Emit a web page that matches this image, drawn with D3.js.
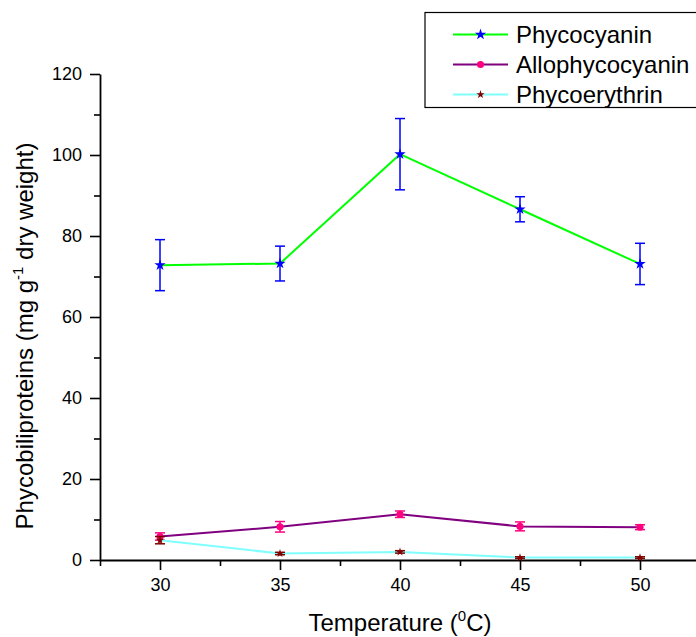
<!DOCTYPE html>
<html>
<head>
<meta charset="utf-8">
<script src="https://cdn.jsdelivr.net/npm/d3@7"></script>
<style>
  body { margin: 0; background: #fff; }
  svg { font-family: "Liberation Sans", Arial, sans-serif; }
</style>
</head>
<body>
<svg width="696" height="637"></svg>
<script>
// data
var temps = [30, 35, 40, 45, 50];
var phycocyanin = [72.8, 73.2, 100.2, 86.6, 73.1];
var phycocyaninErr = [6.3, 4.3, 8.8, 3.1, 5.1];
var allophycocyanin = [5.8, 8.2, 11.3, 8.3, 8.1];
var allophycocyaninErr = [0.9, 1.3, 0.8, 1.1, 0.6];
var phycoerythrin = [4.9, 1.6, 2.0, 0.6, 0.6];
var phycoerythrinErr = [0.9, 0.3, 0.3, 0.2, 0.2];
var yTicks = [0, 20, 40, 60, 80, 100, 120];
var yMinor = [10, 30, 50, 70, 90, 110];
var xMinor = [27.5, 32.5, 37.5, 42.5, 47.5, 52.5];

var series = [
  {name: "Phycocyanin", vals: phycocyanin, err: phycocyaninErr, line: "#00ff00", mark: "#0000ff", shape: "star", size: 40},
  {name: "Allophycocyanin", vals: allophycocyanin, err: allophycocyaninErr, line: "#800080", mark: "#ff0080", shape: "circle", size: 40},
  {name: "Phycoerythrin", vals: phycoerythrin, err: phycoerythrinErr, line: "#80ffff", mark: "#800000", shape: "star", size: 22}
];

var svg = d3.select("svg");

var x = d3.scaleLinear().domain([27.5, 52.5]).range([100, 700]);
var y = d3.scaleLinear().domain([0, 120]).range([560, 74]);

// axes (major + minor ticks)
svg.append("g").attr("transform", "translate(0,560)")
  .call(d3.axisBottom(x).tickValues(temps).tickSize(10).tickSizeOuter(0).tickPadding(8).tickFormat(d3.format("d")));
svg.append("g").attr("transform", "translate(0,560)")
  .call(d3.axisBottom(x).tickValues(xMinor).tickSize(6).tickFormat(""))
  .select(".domain").remove();
svg.append("g").attr("transform", "translate(100,0)")
  .call(d3.axisLeft(y).tickValues(yTicks).tickSize(10).tickSizeOuter(0).tickPadding(8));
svg.append("g").attr("transform", "translate(100,0)")
  .call(d3.axisLeft(y).tickValues(yMinor).tickSize(6).tickFormat(""))
  .select(".domain").remove();

svg.selectAll(".domain").attr("stroke-width", 1.8);
svg.selectAll(".tick line").attr("stroke-width", 1.6);
svg.selectAll(".tick text").attr("font-size", 18).attr("fill", "#000")
  .attr("font-family", "Liberation Sans, Arial, sans-serif");

// lines, error bars, markers
series.forEach(function(s) {
  var pts = temps.map(function(t, i) { return {t: t, v: s.vals[i], e: s.err[i]}; });
  svg.append("path").datum(pts)
    .attr("fill", "none").attr("stroke", s.line).attr("stroke-width", 2)
    .attr("d", d3.line().x(function(d) { return x(d.t); }).y(function(d) { return y(d.v); }));

  var eb = svg.append("g").attr("stroke", s.mark).attr("stroke-width", 1.5);
  pts.forEach(function(d) {
    var cx = x(d.t), y1 = y(d.v + d.e), y2 = y(d.v - d.e);
    eb.append("line").attr("x1", cx).attr("x2", cx).attr("y1", y1).attr("y2", y2);
    eb.append("line").attr("x1", cx - 5).attr("x2", cx + 5).attr("y1", y1).attr("y2", y1);
    eb.append("line").attr("x1", cx - 5).attr("x2", cx + 5).attr("y1", y2).attr("y2", y2);
  });

  var sym = d3.symbol().type(s.shape === "star" ? d3.symbolStar : d3.symbolCircle).size(s.size);
  svg.append("g").selectAll("path").data(pts).join("path")
    .attr("d", sym)
    .attr("transform", function(d) { return "translate(" + x(d.t) + "," + y(d.v) + ")"; })
    .attr("fill", s.mark);
});

// legend
var leg = svg.append("g");
leg.append("rect").attr("x", 425).attr("y", 12.5).attr("width", 290).attr("height", 95)
  .attr("fill", "#fff").attr("stroke", "#000").attr("stroke-width", 1.2);
series.forEach(function(s, i) {
  var ly = 34.5 + i * 30;
  leg.append("line").attr("x1", 453).attr("x2", 508).attr("y1", ly).attr("y2", ly)
    .attr("stroke", s.line).attr("stroke-width", 2);
  leg.append("path")
    .attr("d", d3.symbol().type(s.shape === "star" ? d3.symbolStar : d3.symbolCircle).size(s.size)())
    .attr("transform", "translate(480.5," + ly + ")").attr("fill", s.mark);
  leg.append("text").attr("x", 516).attr("y", ly + 8.5).attr("font-size", 24).text(s.name);
});

// axis titles
var xt = svg.append("text").attr("x", 400).attr("y", 631).attr("text-anchor", "middle").attr("font-size", 24);
xt.append("tspan").text("Temperature (");
xt.append("tspan").attr("font-size", 15).attr("dy", -10).text("0");
xt.append("tspan").attr("dy", 10).text("C)");

var yt = svg.append("text").attr("transform", "translate(33,336) rotate(-90)").attr("text-anchor", "middle").attr("font-size", 24);
yt.append("tspan").text("Phycobiliproteins (mg g");
yt.append("tspan").attr("font-size", 15).attr("dy", -10).text("-1");
yt.append("tspan").attr("dy", 10).text(" dry weight)");
</script>
</body>
</html>
